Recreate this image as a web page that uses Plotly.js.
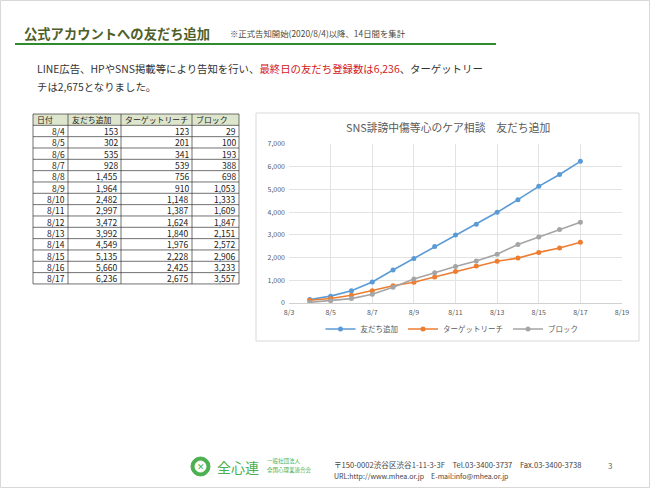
<!DOCTYPE html>
<html><head><meta charset="utf-8">
<script src="https://cdn.plot.ly/plotly-3.0.1.min.js"></script>
<style>html,body{margin:0;padding:0;background:#fff;}#chart{width:650px;height:488px;}</style>
</head><body><div id="chart"></div>
<script>
// ---- data ----
const dates = ['8/4','8/5','8/6','8/7','8/8','8/9','8/10','8/11','8/12','8/13','8/14','8/15','8/16','8/17'];
const friends = [153,302,535,928,1455,1964,2482,2997,3472,3992,4549,5135,5660,6236];
const reach = [123,201,341,539,756,910,1148,1387,1624,1840,1976,2228,2425,2675];
const blocks = [29,100,193,388,698,1053,1333,1609,1847,2151,2572,2906,3233,3557];
const seriesNames = ['友だち追加','ターゲットリーチ','ブロック'];
const tableHeader = ['日付','友だち追加','ターゲットリーチ','ブロック'];
const year = 2020;

const F = '"Noto Sans CJK JP", "Noto Sans", sans-serif';
const W = 650, H = 488;
const px = x => x / W;
const py = y => 1 - y / H;

const isoDates = dates.map(d => { const [m, dd] = d.split('/'); return `${year}-${m.padStart(2,'0')}-${dd.padStart(2,'0')}`; });
const colors = ['#5b9bd5','#ed7d31','#a5a5a5'];
const vals = [friends, reach, blocks];

const traces = vals.map((v, i) => ({
  type: 'scatter', mode: 'lines+markers', x: isoDates, y: v, name: seriesNames[i],
  line: {color: colors[i], width: 1.6}, marker: {color: colors[i], size: 5},
  xaxis: 'x', yaxis: 'y'
}));

const shapes = [
  {type: 'rect', xref: 'paper', yref: 'paper', x0: px(0.5), x1: px(649.5), y0: py(487.5), y1: py(0.5), line: {color: '#d8d8d8', width: 1}},
  {type: 'line', xref: 'paper', yref: 'paper', x0: px(15), x1: px(496), y0: py(44), y1: py(44), line: {color: '#2e8b2e', width: 2}},
  {type: 'rect', xref: 'paper', yref: 'paper', x0: px(256), x1: px(639), y0: py(341), y1: py(113), line: {color: '#d9d9d9', width: 1}},
  {type: 'circle', xref: 'paper', yref: 'paper', x0: px(191), x1: px(210), y0: py(476), y1: py(457), fillcolor: '#4caf50', line: {color: '#4caf50', width: 1}},
  {type: 'circle', xref: 'paper', yref: 'paper', x0: px(195), x1: px(206), y0: py(472), y1: py(461), fillcolor: '#ffffff', line: {color: '#ffffff', width: 1}}
];
const annotations = [];

// ---- table built from the arrays ----
const colX = [33, 68, 121, 192, 239];
const tTop = 114, rowH = 11.33;
const nRows = dates.length + 1;
const tBot = tTop + nRows * rowH;
shapes.push({type: 'rect', xref: 'paper', yref: 'paper', x0: px(colX[0]), x1: px(colX[4]), y0: py(tTop + rowH), y1: py(tTop), fillcolor: '#dde6cc', line: {width: 0}, layer: 'below'});
for (let r = 0; r <= nRows; r++) {
  const y = tTop + r * rowH;
  shapes.push({type: 'line', xref: 'paper', yref: 'paper', x0: px(colX[0]), x1: px(colX[4]), y0: py(y), y1: py(y), line: {color: '#333', width: 0.7}});
}
colX.forEach(x => shapes.push({type: 'line', xref: 'paper', yref: 'paper', x0: px(x), x1: px(x), y0: py(tTop), y1: py(tBot), line: {color: '#333', width: 0.7}}));
const fmt = n => n.toLocaleString('en-US');
tableHeader.forEach((h, c) => annotations.push({xref: 'paper', yref: 'paper', x: px(colX[c] + 1.5), y: py(tTop + rowH / 2), xanchor: 'left', yanchor: 'middle', showarrow: false, text: h, font: {family: F, size: 7.9, color: '#222'}}));
const cols = [dates, friends.map(fmt), reach.map(fmt), blocks.map(fmt)];
cols.forEach((col, c) => col.forEach((t, r) => annotations.push({
  xref: 'paper', yref: 'paper', x: px(colX[c + 1] - 1.5), y: py(tTop + (r + 1.5) * rowH), xanchor: 'right', yanchor: 'middle',
  showarrow: false, text: t, font: {family: F, size: 8.5, color: '#222'}
})));

annotations.push(
  {xref: 'paper', yref: 'paper', x: px(22), y: py(33), xanchor: 'left', yanchor: 'middle', showarrow: false,
   text: '<b>公式アカウントへの友だち追加</b>', font: {family: F, size: 13.3, color: '#4f5f2a'}},
  {xref: 'paper', yref: 'paper', x: px(228), y: py(33), xanchor: 'left', yanchor: 'middle', showarrow: false,
   text: '※正式告知開始(2020/8/4)以降、14日間を集計', font: {family: F, size: 8.4, color: '#4a4a3a'}},
  {xref: 'paper', yref: 'paper', x: px(35), y: py(68), xanchor: 'left', yanchor: 'middle', showarrow: false,
   text: 'LINE広告、HPやSNS掲載等により告知を行い、<span style="color:#d42020">最終日の友だち登録数は6,236</span>、ターゲットリー',
   font: {family: F, size: 10.4, color: '#333'}},
  {xref: 'paper', yref: 'paper', x: px(35), y: py(86), xanchor: 'left', yanchor: 'middle', showarrow: false,
   text: 'チは2,675となりました。', font: {family: F, size: 10.4, color: '#333'}},
  {xref: 'paper', yref: 'paper', x: px(448), y: py(127), xanchor: 'center', yanchor: 'middle', showarrow: false,
   text: 'SNS誹謗中傷等心のケア相談　友だち追加', font: {family: F, size: 10.8, color: '#595959'}},
  {xref: 'paper', yref: 'paper', x: px(200.5), y: py(466.5), xanchor: 'center', yanchor: 'middle', showarrow: false,
   text: '✕', font: {family: F, size: 9, color: '#4caf50'}},
  {xref: 'paper', yref: 'paper', x: px(215), y: py(467), xanchor: 'left', yanchor: 'middle', showarrow: false,
   text: '全心連', font: {family: F, size: 14, color: '#4caf50'}},
  {xref: 'paper', yref: 'paper', x: px(265), y: py(461), xanchor: 'left', yanchor: 'middle', showarrow: false,
   text: '一般社団法人', font: {family: F, size: 5.5, color: '#4caf50'}},
  {xref: 'paper', yref: 'paper', x: px(265), y: py(470), xanchor: 'left', yanchor: 'middle', showarrow: false,
   text: '全国心理業連合会', font: {family: F, size: 5.5, color: '#4caf50'}},
  {xref: 'paper', yref: 'paper', x: px(332), y: py(464), xanchor: 'left', yanchor: 'middle', showarrow: false,
   text: '〒150-0002渋谷区渋谷1-11-3-3F　Tel.03-3400-3737　Fax.03-3400-3738', font: {family: F, size: 7.6, color: '#444'}},
  {xref: 'paper', yref: 'paper', x: px(332), y: py(476), xanchor: 'left', yanchor: 'middle', showarrow: false,
   text: 'URL:http://www.mhea.or.jp　E-mail:info@mhea.or.jp', font: {family: F, size: 7, color: '#444'}},
  {xref: 'paper', yref: 'paper', x: px(610), y: py(465), xanchor: 'center', yanchor: 'middle', showarrow: false,
   text: '3', font: {family: F, size: 8, color: '#666'}}
);

const layout = {
  width: W, height: H, margin: {l: 0, r: 0, t: 0, b: 0},
  paper_bgcolor: '#fff', plot_bgcolor: '#fff', showlegend: true,
  font: {family: F},
  xaxis: {
    domain: [px(289), px(622)], anchor: 'y', type: 'date',
    range: [`${year}-08-03`, `${year}-08-19`], tick0: `${year}-08-03`, dtick: 2 * 86400000,
    tickformat: '%-m/%-d', showgrid: true, gridcolor: '#e3e3e3', gridwidth: 1,
    showline: true, linecolor: '#d0d0d0', ticks: '', zeroline: false, ticklabelstandoff: 3,
    tickfont: {family: F, size: 7, color: '#595959'}
  },
  yaxis: {
    domain: [py(303), py(144)], anchor: 'x', range: [0, 7000], dtick: 1000,
    tickformat: ',d', showgrid: true, gridcolor: '#e3e3e3', zeroline: false,
    showline: false, ticks: '', ticklabelstandoff: 3, tickfont: {family: F, size: 7, color: '#595959'}
  },
  legend: {
    orientation: 'h', x: px(452), xanchor: 'center', y: py(329), yanchor: 'middle',
    font: {family: F, size: 7.5, color: '#595959'}, itemwidth: 30, bgcolor: 'rgba(0,0,0,0)'
  },
  shapes, annotations
};

Plotly.newPlot('chart', traces, layout, {displayModeBar: false, staticPlot: true});
</script></body></html>
